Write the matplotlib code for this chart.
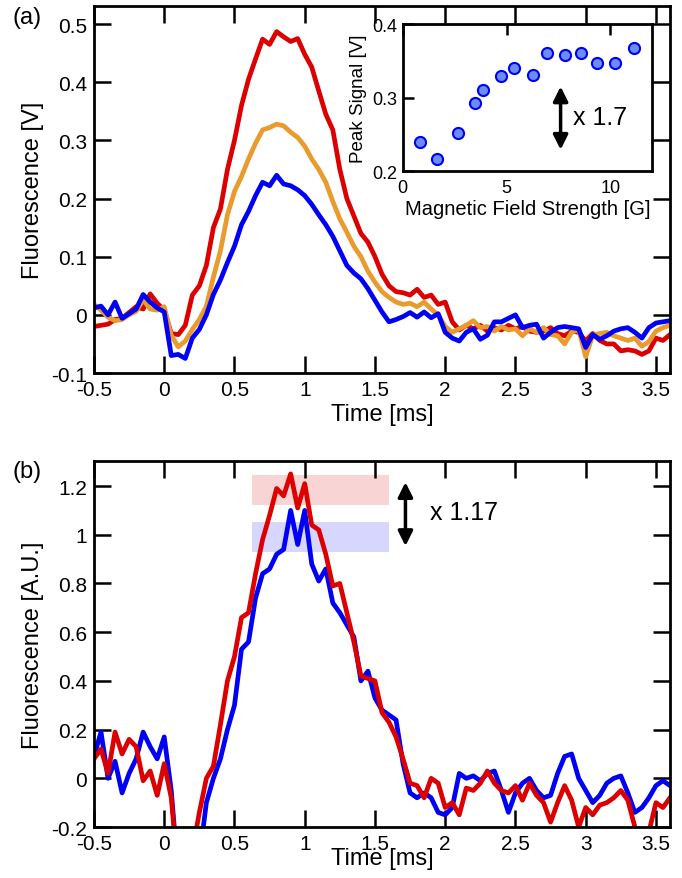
import matplotlib.pyplot as plt
import numpy as np

plt.rcParams['font.family'] = ['Liberation Sans', 'DejaVu Sans']

# time axis (ms), sampled every 0.05 ms
t = np.round(np.arange(-0.5, 3.6001, 0.05), 3)

# panel (a): raw fluorescence traces [V]
fl_red = [-0.020, -0.018, -0.016, -0.008, -0.006, 0.004, 0.014, 0.010, 0.036, 0.020,
          0.008, -0.032, -0.034, -0.018, 0.034, 0.050, 0.085, 0.150, 0.182, 0.250,
          0.300, 0.360, 0.405, 0.440, 0.474, 0.465, 0.487, 0.478, 0.470, 0.475,
          0.448, 0.426, 0.385, 0.345, 0.318, 0.250, 0.200, 0.170, 0.140, 0.125,
          0.100, 0.070, 0.050, 0.040, 0.038, 0.034, 0.044, 0.030, 0.034, 0.018,
          0.022, -0.012, -0.026, -0.018, -0.024, -0.018, -0.028, -0.022, -0.026, -0.018,
          -0.024, -0.020, -0.028, -0.030, -0.028, -0.022, -0.032, -0.036, -0.028, -0.030,
          -0.045, -0.032, -0.044, -0.050, -0.050, -0.062, -0.060, -0.062, -0.068, -0.062,
          -0.040, -0.044, -0.034]
fl_orange = [0.018, 0.008, -0.004, -0.010, -0.008, 0.000, 0.006, 0.026, 0.010, 0.008,
             0.014, -0.035, -0.055, -0.045, -0.025, -0.008, 0.015, 0.065, 0.110, 0.172,
             0.212, 0.238, 0.268, 0.295, 0.318, 0.322, 0.328, 0.325, 0.314, 0.305,
             0.290, 0.268, 0.250, 0.228, 0.195, 0.165, 0.142, 0.118, 0.100, 0.075,
             0.056, 0.040, 0.030, 0.022, 0.018, 0.020, 0.014, 0.022, 0.010, 0.000,
             -0.020, -0.030, -0.024, -0.018, -0.010, -0.022, -0.020, -0.028, -0.020, -0.026,
             -0.024, -0.036, -0.024, -0.030, -0.022, -0.034, -0.036, -0.050, -0.030, -0.025,
             -0.072, -0.035, -0.032, -0.030, -0.036, -0.040, -0.044, -0.040, -0.054, -0.046,
             -0.028, -0.022, -0.018]
fl_blue = [0.012, 0.015, 0.000, 0.022, -0.006, 0.002, 0.010, 0.035, 0.022, 0.012,
           0.005, -0.070, -0.068, -0.075, -0.040, -0.025, 0.000, 0.035, 0.060, 0.090,
           0.118, 0.155, 0.178, 0.205, 0.228, 0.222, 0.240, 0.225, 0.222, 0.215,
           0.205, 0.190, 0.172, 0.155, 0.135, 0.110, 0.085, 0.072, 0.062, 0.045,
           0.025, 0.005, -0.012, -0.008, -0.003, 0.004, -0.004, 0.005, -0.005, 0.002,
           -0.030, -0.040, -0.045, -0.030, -0.024, -0.042, -0.035, -0.012, -0.012, -0.006,
           0.000, -0.022, -0.018, -0.016, -0.040, -0.030, -0.022, -0.020, -0.022, -0.024,
           -0.056, -0.034, -0.042, -0.036, -0.028, -0.024, -0.022, -0.030, -0.040, -0.022,
           -0.014, -0.012, -0.010]

# inset: peak signal vs magnetic field
field_G = [0.83, 1.63, 2.68, 3.46, 3.88, 4.71, 5.37, 6.25, 6.94, 7.80, 8.59, 9.33, 10.24, 11.15]
peak_V = [0.239, 0.217, 0.252, 0.293, 0.310, 0.329, 0.340, 0.331, 0.361, 0.358, 0.361, 0.347, 0.347, 0.367]

# panel (b): normalised traces [A.U.]
au_blue = [0.09, 0.19, 0.00, 0.07, -0.06, 0.02, 0.08, 0.19, 0.13, 0.08,
           0.17, -0.05, -0.40, -0.55, -0.50, -0.33, -0.10, 0.00, 0.08, 0.20,
           0.30, 0.53, 0.56, 0.74, 0.84, 0.86, 0.92, 0.94, 1.10, 0.96,
           1.10, 0.88, 0.81, 0.86, 0.72, 0.68, 0.63, 0.58, 0.40, 0.44,
           0.33, 0.28, 0.26, 0.24, 0.06, -0.06, -0.08, -0.06, -0.08, -0.14,
           -0.15, -0.12, 0.02, 0.00, 0.01, -0.01, 0.02, 0.03, -0.05, -0.14,
           -0.06, -0.02, 0.00, -0.05, -0.08, -0.07, 0.02, 0.09, 0.10, 0.00,
           -0.05, -0.10, -0.07, -0.02, 0.00, 0.01, -0.06, -0.14, -0.12, -0.08,
           -0.03, -0.01, -0.03]
au_red = [0.08, 0.12, 0.02, 0.19, 0.10, 0.16, 0.13, -0.01, 0.03, -0.07,
          0.06, -0.08, -0.40, -0.50, -0.30, -0.14, 0.00, 0.05, 0.22, 0.40,
          0.50, 0.66, 0.68, 0.84, 0.98, 1.08, 1.19, 1.16, 1.25, 1.11,
          1.21, 1.04, 1.02, 0.92, 0.79, 0.80, 0.68, 0.56, 0.42, 0.41,
          0.40, 0.27, 0.23, 0.17, 0.08, -0.02, -0.03, -0.08, 0.00, -0.02,
          -0.12, -0.10, -0.15, -0.04, -0.05, -0.02, 0.03, -0.02, -0.05, -0.06,
          -0.03, -0.09, -0.02, -0.07, -0.10, -0.18, -0.10, -0.03, -0.09, -0.20,
          -0.12, -0.15, -0.11, -0.10, -0.08, -0.05, -0.09, -0.20, -0.25, -0.22,
          -0.10, -0.12, -0.08]

RED = '#dc0000'
ORANGE = '#e99b2d'
BLUE = '#0000f5'

fig = plt.figure(figsize=(6.82, 8.79), dpi=100)
ax1 = fig.add_axes([0.1378, 0.5745, 0.8446, 0.4175])
ax2 = fig.add_axes([0.1378, 0.0580, 0.8446, 0.4164])
axin = fig.add_axes([0.5905, 0.8043, 0.3655, 0.1672])


def style(ax, tl=12, lw=2.0):
    for s in ax.spines.values():
        s.set_linewidth(lw)
    ax.tick_params(direction='in', length=tl, width=1.8, labelsize=15, pad=5,
                   top=True, right=True)


# ---- panel (a)
ax1.plot(t, fl_red, color=RED, lw=3.4)
ax1.plot(t, fl_orange, color=ORANGE, lw=3.4)
ax1.plot(t, fl_blue, color=BLUE, lw=3.4)
ax1.set_xlim(-0.5, 3.6)
ax1.set_ylim(-0.1, 0.531)
ax1.set_xticks(np.arange(-0.5, 3.51, 0.5))
ax1.set_xticklabels(['-0.5', '0', '0.5', '1', '1.5', '2', '2.5', '3', '3.5'])
ax1.set_yticks(np.arange(-0.1, 0.51, 0.1))
ax1.set_yticklabels(['-0.1', '0', '0.1', '0.2', '0.3', '0.4', '0.5'])
style(ax1)
ax1.set_xlabel('Time [ms]', fontsize=17, labelpad=3)
ax1.set_ylabel('Fluorescence [V]', fontsize=17, labelpad=5)
fig.text(0.018, 0.979, '(a)', fontsize=17, va='center')

# ---- inset
axin.plot(field_G, peak_V, 'o', ms=8, mfc='#6b8cf0', mec=BLUE, mew=1.5)
axin.set_xlim(0, 12)
axin.set_ylim(0.2, 0.4)
axin.set_xticks([0, 5, 10])
axin.set_yticks([0.2, 0.3, 0.4])
axin.set_yticklabels(['0.2', '0.3', '0.4'])
for s in axin.spines.values():
    s.set_linewidth(2)
axin.tick_params(direction='in', length=8, width=1.8, labelsize=13, pad=4,
                 top=True, bottom=False, right=False)
axin.tick_params(axis='x', pad=6)
axin.set_xlabel('Magnetic Field Strength [G]', fontsize=14.5, labelpad=2)
axin.set_ylabel('Peak Signal [V]', fontsize=13.5, labelpad=4)
axin.annotate('', xy=(7.6, 0.229), xytext=(7.6, 0.315),
              arrowprops=dict(arrowstyle='<|-|>', color='black', lw=2.5,
                              mutation_scale=22, shrinkA=0, shrinkB=0))
axin.text(8.2, 0.274, 'x 1.7', fontsize=18, va='center')

# ---- panel (b)
ax2.plot(t, au_blue, color=BLUE, lw=3.4)
ax2.plot(t, au_red, color=RED, lw=3.4)
ax2.fill_between([0.623, 1.603], 1.123, 1.245, color='#e00000', alpha=0.17, lw=0)
ax2.fill_between([0.623, 1.603], 0.930, 1.053, color='#1010ff', alpha=0.17, lw=0)
ax2.annotate('', xy=(1.717, 0.954), xytext=(1.717, 1.216),
             arrowprops=dict(arrowstyle='<|-|>', color='black', lw=2.5,
                             mutation_scale=22, shrinkA=0, shrinkB=0))
ax2.text(1.89, 1.093, 'x 1.17', fontsize=18, va='center')
ax2.set_xlim(-0.5, 3.6)
ax2.set_ylim(-0.2, 1.303)
ax2.set_xticks(np.arange(-0.5, 3.51, 0.5))
ax2.set_xticklabels(['-0.5', '0', '0.5', '1', '1.5', '2', '2.5', '3', '3.5'])
ax2.set_yticks(np.arange(-0.2, 1.21, 0.2))
ax2.set_yticklabels(['-0.2', '0', '0.2', '0.4', '0.6', '0.8', '1', '1.2'])
style(ax2)
ax2.set_xlabel('Time [ms]', fontsize=17, labelpad=-4)
ax2.set_ylabel('Fluorescence [A.U.]', fontsize=17, labelpad=5)
fig.text(0.018, 0.463, '(b)', fontsize=17, va='center')

fig.savefig('out.png', dpi=100)
